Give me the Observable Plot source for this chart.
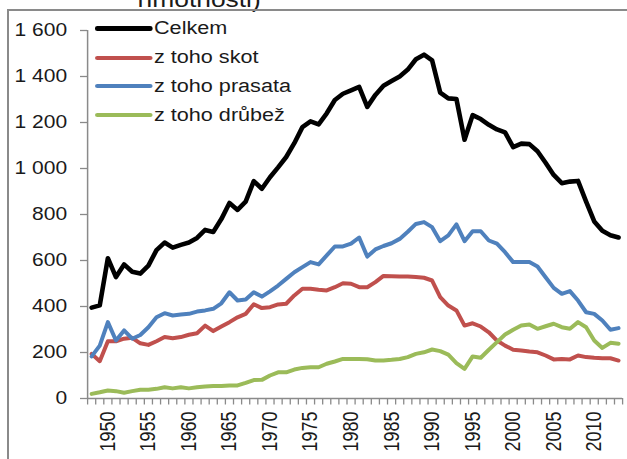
<!DOCTYPE html>
<html>
<head>
<meta charset="utf-8">
<script src="https://cdn.jsdelivr.net/npm/d3@7"></script>
<script src="https://cdn.jsdelivr.net/npm/@observablehq/plot@0.6"></script>
<style>
  html, body { margin: 0; padding: 0; background: #fff; overflow: hidden; }
  #wrap { position: relative; width: 627px; height: 459px; overflow: hidden; }
  #frame { position: absolute; left: 7px; top: 9px; width: 700px; height: 600px;
           border-left: 2px solid #8a8a8a; border-top: 2px solid #8a8a8a; pointer-events: none; }
  #legend { position: absolute; left: 95px; top: 14.6px; transform: scaleX(1.2); transform-origin: 0 0;
            font-family: 'Liberation Sans', Arial, sans-serif; font-size: 18px; color: #1a1a1a; }
  .row { height: 28.7px; display: flex; align-items: center; white-space: nowrap; }
  .sw { width: 47.5px; margin-right: 1.7px; border-radius: 2px; }
</style>
</head>
<body>
<div id="wrap"></div>
<script>
const years = d3.range(1948, 2014);
const seriesNames = ["Celkem", "z toho skot", "z toho prasata", "z toho drůbež"];
const seriesColors = ["#000000", "#C0504D", "#4F81BD", "#9BBB59"];
const celkem = [395,405,610,528,583,551,543,578,645,678,656,668,678,698,733,724,780,850,820,856,945,912,962,1005,1050,1110,1180,1205,1192,1240,1298,1325,1340,1355,1268,1320,1360,1380,1400,1430,1475,1495,1470,1330,1305,1302,1125,1232,1215,1190,1170,1157,1093,1108,1106,1075,1025,972,936,943,946,856,770,729,710,700];
const skot = [194,162,249,249,260,264,240,233,249,267,262,267,277,284,317,293,313,332,353,368,410,393,397,409,412,448,477,477,473,470,484,501,499,484,484,506,533,532,530,530,528,525,513,441,404,383,317,327,313,288,252,230,212,209,204,201,187,170,172,170,187,180,177,175,175,165];
const prasata = [183,230,332,252,296,260,276,310,353,371,361,365,368,378,383,390,414,462,426,430,462,443,466,491,520,549,571,593,583,622,661,661,673,700,617,648,663,675,694,725,759,767,745,684,709,757,684,727,727,687,673,636,593,593,593,574,527,481,455,467,426,375,368,339,299,306];
const drubez = [20,27,35,32,25,32,38,38,42,49,44,49,44,49,52,54,54,57,57,68,80,81,100,114,114,126,133,136,136,151,161,172,172,172,171,165,165,168,172,180,194,201,213,206,191,154,129,183,177,212,245,278,299,317,322,303,314,325,310,303,332,310,252,220,242,238];
const yTicks = [0, 200, 400, 600, 800, 1000, 1200, 1400, 1600];
const labelYears = [1950, 1955, 1960, 1965, 1970, 1975, 1980, 1985, 1990, 1995, 2000, 2005, 2010];
const titleText = "hmotnosti)";

const values = [celkem, skot, prasata, drubez];
const rows = [];
seriesNames.forEach((s, i) => years.forEach((yr, j) => rows.push({series: s, year: yr, value: values[i][j]})));

const S = 1.2;           // horizontal stretch of the reference image
const W = 627 / S;
const xDomain = [years[0] - 0.5, years[years.length - 1] + 0.5];
const boundaries = years.map(y => y - 0.5).concat([years[years.length - 1] + 0.5]);
const fmt = d => d3.format(",")(d).replace(",", " ");

const plot = Plot.plot({
  width: W,
  height: 459,
  marginLeft: 87 / S,
  marginRight: 5 / S,
  marginTop: 30,
  marginBottom: 61,
  style: {fontFamily: "'Liberation Sans', Arial, sans-serif", fontSize: "17.5px", color: "#1a1a1a", background: "#fff"},
  x: {type: "linear", domain: xDomain, label: null},
  y: {domain: [0, 1600], label: null},
  color: {domain: seriesNames, range: seriesColors},
  marks: [
    Plot.axisY({ticks: yTicks, tickFormat: fmt, tickSize: 7 / S, tickPadding: 13.5 / S, stroke: "#8a8a8a", fill: "#1a1a1a", strokeWidth: 1.3, label: null}),
    Plot.axisX({ticks: boundaries, tickFormat: () => "", tickSize: 6.5, stroke: "#8a8a8a", strokeWidth: 1.3, label: null}),
    Plot.axisX({ticks: labelYears, tickFormat: d => String(d), tickSize: 0, tickPadding: 13, tickRotate: -90, fontSize: 18, fill: "#1a1a1a", label: null}),
    Plot.ruleX([xDomain[0]], {stroke: "#8a8a8a", strokeWidth: 1.5}),
    Plot.ruleY([0], {stroke: "#8a8a8a", strokeWidth: 1.5}),
    Plot.line(rows.filter(d => d.series !== "Celkem"), {x: "year", y: "value", z: "series", stroke: "series", strokeWidth: 4, strokeLinejoin: "round", strokeLinecap: "round"}),
    Plot.line(rows.filter(d => d.series === "Celkem"), {x: "year", y: "value", stroke: "series", strokeWidth: 4.6, strokeLinejoin: "round", strokeLinecap: "round"}),
    Plot.text([titleText], {text: d => d, frameAnchor: "top-left", dx: (137 - 87) / S, dy: -24, textAnchor: "start", lineAnchor: "bottom", fontSize: 22, fill: "#1a1a1a"})
  ]
});

plot.setAttribute("width", 627);
plot.setAttribute("height", 459);
plot.setAttribute("preserveAspectRatio", "none");
plot.style.width = "627px";
plot.style.height = "459px";
plot.style.maxWidth = "none";
d3.select(plot).selectAll("path, line").attr("vector-effect", "non-scaling-stroke");

const wrap = document.getElementById("wrap");
wrap.appendChild(plot);
const frame = document.createElement("div");
frame.id = "frame";
wrap.appendChild(frame);

const legend = document.createElement("div");
legend.id = "legend";
seriesNames.forEach((s, i) => {
  const row = document.createElement("div");
  row.className = "row";
  const sw = document.createElement("span");
  sw.className = "sw";
  sw.style.background = seriesColors[i];
  sw.style.height = i === 0 ? "5px" : "4px";
  const t = document.createElement("span");
  t.textContent = s;
  row.appendChild(sw);
  row.appendChild(t);
  legend.appendChild(row);
});
wrap.appendChild(legend);
</script>
</body>
</html>
